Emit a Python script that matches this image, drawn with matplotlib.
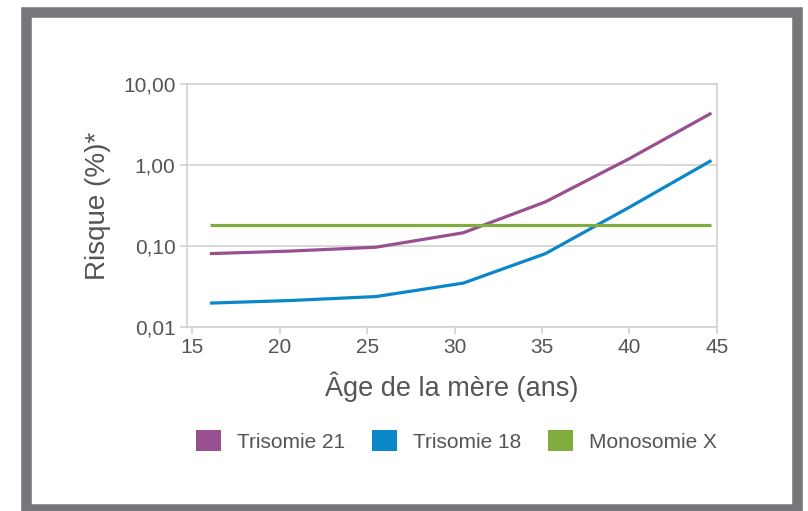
import matplotlib
matplotlib.use("Agg")
import matplotlib.pyplot as plt
from matplotlib.patches import Patch, Rectangle

plt.rcParams["font.family"] = ["Liberation Sans", "DejaVu Sans"]

ages = [16, 20.6, 25.5, 30.5, 35.2, 40, 44.7]
trisomie_21 = [0.080, 0.086, 0.096, 0.145, 0.35, 1.2, 4.4]
trisomie_18 = [0.0195, 0.021, 0.0235, 0.0345, 0.080, 0.30, 1.14]
monosomie_x = [0.18, 0.18]
monosomie_ages = [16, 44.7]

series_names = ["Trisomie 21", "Trisomie 18", "Monosomie X"]
colors = ["#985090", "#0a87c8", "#80ac40"]

x_ticks = [15, 20, 25, 30, 35, 40, 45]
y_ticks = [0.01, 0.1, 1, 10]
y_labels = ["0,01", "0,10", "1,00", "10,00"]

text_col = "#555558"
grid_col = "#d2d2d2"

fig = plt.figure(figsize=(8.08, 5.11), dpi=100)
ax = fig.add_axes([0.231, 0.361, 0.656, 0.474])

ax.plot(ages, trisomie_21, color=colors[0], lw=2.3, solid_capstyle="butt")
ax.plot(ages, trisomie_18, color=colors[1], lw=2.3, solid_capstyle="butt")
ax.plot(monosomie_ages, monosomie_x, color=colors[2], lw=2.3, solid_capstyle="butt")

ax.set_yscale("log")
ax.set_ylim(0.01, 10)
ax.set_xlim(14.67, 45)
ax.set_yticks(y_ticks)
ax.set_yticklabels(y_labels)
ax.minorticks_off()
ax.set_xticks(x_ticks)

ax.yaxis.grid(True, color=grid_col, lw=1.2)
ax.set_axisbelow(True)
for s in ax.spines.values():
    s.set_color(grid_col)
    s.set_linewidth(1.2)

ax.tick_params(axis="both", colors=grid_col, labelcolor=text_col,
               labelsize=15, length=5, width=1.2)
ax.tick_params(axis="y", pad=3)
ax.tick_params(axis="x", pad=3)

ax.set_ylabel("Risque (%)*", fontsize=20, color=text_col, labelpad=9)
ax.set_xlabel("Âge de la mère (ans)", fontsize=19.5, color=text_col, labelpad=11)

handles = [Patch(facecolor=c, edgecolor="none", label=n)
           for c, n in zip(colors, series_names)]
leg = fig.legend(handles=handles, loc="center", bbox_to_anchor=(0.565, 0.137),
                 ncol=3, frameon=False, fontsize=15,
                 handlelength=1.2, handleheight=1.2,
                 handletextpad=0.75, columnspacing=1.3)
for t in leg.get_texts():
    t.set_color(text_col)

# grey frame around the figure
W, H = 808, 511
frame = Rectangle((26 / W, 2.5 / H), (797 - 26) / W, (499 - 2.5) / H,
                  transform=fig.transFigure, fill=False,
                  edgecolor="#76777b", linewidth=7.6)
fig.patches.append(frame)

fig.savefig("out.png", dpi=100)
plt.close(fig)
